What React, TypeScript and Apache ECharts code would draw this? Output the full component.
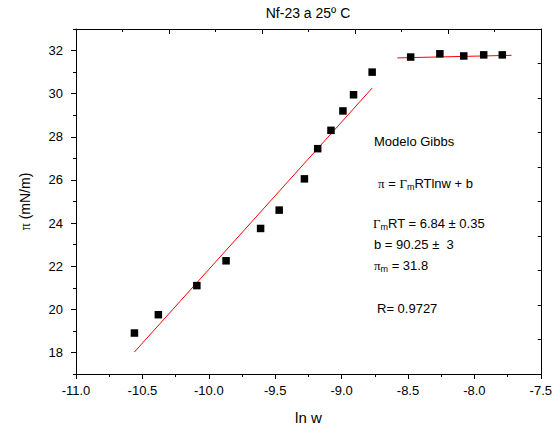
import React, { useEffect, useRef } from "react";
import * as echarts from "echarts";

const lnW = [-10.56, -10.38, -10.09, -9.87, -9.61, -9.47, -9.28, -9.18, -9.08, -8.99, -8.91, -8.77, -8.48, -8.26, -8.08, -7.93, -7.79];
const piValues = [18.9, 19.75, 21.1, 22.25, 23.75, 24.6, 26.05, 27.45, 28.3, 29.2, 29.95, 31.0, 31.7, 31.85, 31.75, 31.8, 31.8];
const fitX = [-10.56, -8.77];
const fitY = [18.02, 30.26];
const plateauX = [-8.58, -7.72];
const plateauY = [31.66, 31.78];
const yLabelValues = [18, 20, 22, 24, 26, 28, 30, 32];

const SANS = "Liberation Sans, Arial, sans-serif";
const SERIF = "Liberation Serif, serif";

const rich = {
  n: { fontFamily: SANS, fontSize: 13, color: "#000", lineHeight: 14, verticalAlign: "top" },
  s: { fontFamily: SERIF, fontSize: 13, color: "#000", lineHeight: 14, verticalAlign: "top" },
  sub: { fontFamily: SANS, fontSize: 9, color: "#000", lineHeight: 10, padding: [9, 0, 0, 0], verticalAlign: "bottom" },
};

function txt(text: string, x: number, yc: number) {
  return {
    type: "text",
    x,
    y: yc - 7,
    style: { text, rich, align: "left", verticalAlign: "top", textAlign: "left", textVerticalAlign: "top" },
  };
}

export default function App() {
  const ref = useRef<HTMLDivElement>(null);
  useEffect(() => {
    const chart = echarts.init(ref.current!, null, { renderer: "svg" });
    const axisLine = { show: true, lineStyle: { color: "#000", width: 1 } };
    chart.setOption({
      animation: false,
      backgroundColor: "#fff",
      grid: { left: 76, right: 14, top: 29, bottom: 57, containLabel: false },
      xAxis: [
        {
          type: "value",
          min: -11,
          max: -7.5,
          interval: 0.5,
          position: "bottom",
          axisLine,
          axisTick: { show: true, length: 5, lineStyle: { color: "#000" } },
          minorTick: { show: true, splitNumber: 2, length: 3, lineStyle: { color: "#000" } },
          splitLine: { show: false },
          axisLabel: { color: "#000", fontSize: 13, fontFamily: SANS, margin: 10, formatter: (v: number) => v.toFixed(1) },
          name: "ln w",
          nameLocation: "middle",
          nameGap: 36,
          nameTextStyle: { color: "#000", fontSize: 15, fontFamily: SANS },
        },
        {
          type: "value",
          min: 0,
          max: 3.5,
          interval: 0.7,
          position: "top",
          axisLine,
          axisTick: { show: true, inside: true, length: 5, lineStyle: { color: "#000" } },
          minorTick: { show: true, splitNumber: 2, length: 3, lineStyle: { color: "#000" } },
          splitLine: { show: false },
          axisLabel: { show: false },
        },
      ],
      yAxis: [
        {
          type: "value",
          min: 17,
          max: 33,
          position: "left",
          axisLine,
          axisTick: { show: true, length: 5, customValues: yLabelValues, lineStyle: { color: "#000" } },
          splitLine: { show: false },
          axisLabel: { color: "#000", fontSize: 13, fontFamily: SANS, margin: 13, customValues: yLabelValues },
          name: "{s|π} (mN/m)",
          nameLocation: "middle",
          nameGap: 44,
          nameTextStyle: {
            color: "#000",
            fontSize: 14,
            fontFamily: SANS,
            rich: { s: { fontFamily: SERIF, fontSize: 14, color: "#000" } },
          },
        },
        {
          type: "value",
          min: 17,
          max: 33,
          interval: 1,
          position: "left",
          axisLine: { show: false },
          axisTick: { show: true, length: 3, lineStyle: { color: "#000" } },
          splitLine: { show: false },
          axisLabel: { show: false },
        },
        {
          type: "value",
          min: 0,
          max: 16,
          interval: 1.6,
          position: "right",
          axisLine,
          axisTick: { show: true, inside: true, length: 3, lineStyle: { color: "#000" } },
          splitLine: { show: false },
          axisLabel: { show: false },
        },
      ],
      graphic: [
        {
          type: "text",
          x: 308,
          y: 13,
          style: {
            text: "Nf-23 a 25º C",
            fontFamily: SANS,
            fontSize: 14,
            fill: "#000",
            align: "center",
            verticalAlign: "middle",
            textAlign: "center",
            textVerticalAlign: "middle",
          },
        },
        txt("{n|Modelo Gibbs}", 374, 142),
        txt("{s|π}{n| = }{s|Γ}{sub|m}{n|RTlnw + b}", 378, 184),
        txt("{s|Γ}{sub|m}{n|RT = 6.84 ± 0.35}", 373, 224),
        txt("{n|b = 90.25 ±  3}", 374, 245),
        txt("{s|π}{sub|m}{n| = 31.8}", 374, 266),
        txt("{n|R= 0.9727}", 377, 309),
      ],
      series: [
        {
          type: "line",
          xAxisIndex: 0,
          yAxisIndex: 0,
          data: fitX.map((x, i) => [x, fitY[i]]),
          showSymbol: false,
          lineStyle: { color: "#ff0000", width: 1 },
          z: 2,
        },
        {
          type: "line",
          xAxisIndex: 0,
          yAxisIndex: 0,
          data: plateauX.map((x, i) => [x, plateauY[i]]),
          showSymbol: false,
          lineStyle: { color: "#ff0000", width: 1 },
          z: 2,
        },
        {
          type: "scatter",
          xAxisIndex: 0,
          yAxisIndex: 0,
          data: lnW.map((x, i) => [x, piValues[i]]),
          symbol: "rect",
          symbolSize: 7.5,
          itemStyle: { color: "#000", opacity: 1 },
          z: 3,
        },
      ],
    });
    return () => chart.dispose();
  }, []);
  return <div ref={ref} style={{ position: "absolute", left: 0, top: 0, width: 555, height: 431 }} />;
}
